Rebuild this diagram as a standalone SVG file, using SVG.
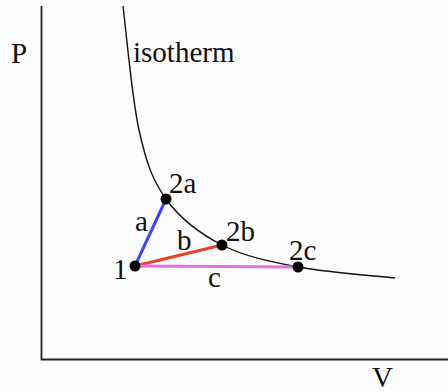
<svg xmlns="http://www.w3.org/2000/svg" width="448" height="392" viewBox="0 0 448 392" font-family="'Liberation Serif', 'Times New Roman', Times, 'DejaVu Serif', serif">
  <style>
    text { font-family: "Liberation Serif", "Times New Roman", Times, "DejaVu Serif", serif; font-size: 29px; fill: #111; }
    .axis { stroke: #222; stroke-width: 1.8; fill: none; }
    .iso { stroke: #111; stroke-width: 1.4; fill: none; }
    .dot { fill: #000; }
    .path { stroke-width: 3; fill: none; stroke-linecap: round; }
  </style>
  <rect x="0" y="0" width="448" height="392" fill="#fcfcfc"/>
  <g id="axes">
    <path class="axis" d="M41.5,6 V359.5 H448"/>
    <text x="11" y="63">P</text>
    <text x="372" y="387">V</text>
  </g>
  <g id="isotherm">
    <path class="iso" d="M123,6 C125.7,26.7 131.8,97.8 139,130 C146.2,162.2 152.2,179.8 166,199 C179.8,218.2 200,233.7 222,245 C244,256.3 269.2,261.5 298,267 C326.8,272.5 378.8,276.2 395,278"/>
    <text x="133" y="62">isotherm</text>
  </g>
  <g id="connectors">
    <line class="path" x1="135" y1="266" x2="166" y2="199" stroke="#4444f2"/>
    <line class="path" x1="135" y1="266" x2="222" y2="245" stroke="#e8422c"/>
    <line class="path" x1="135" y1="266" x2="298" y2="267" stroke="#e46ee4"/>
    <text x="135" y="231">a</text>
    <text x="177" y="250">b</text>
    <text x="208" y="287">c</text>
  </g>
  <g id="node-1">
    <circle class="dot" cx="135" cy="266" r="5.5"/>
    <text x="113" y="279">1</text>
  </g>
  <g id="node-2a">
    <circle class="dot" cx="166" cy="199" r="5.5"/>
    <text x="169" y="193">2a</text>
  </g>
  <g id="node-2b">
    <circle class="dot" cx="222" cy="245" r="5.5"/>
    <text x="226" y="241">2b</text>
  </g>
  <g id="node-2c">
    <circle class="dot" cx="298" cy="267" r="5.5"/>
    <text x="289" y="260">2c</text>
  </g>
</svg>
